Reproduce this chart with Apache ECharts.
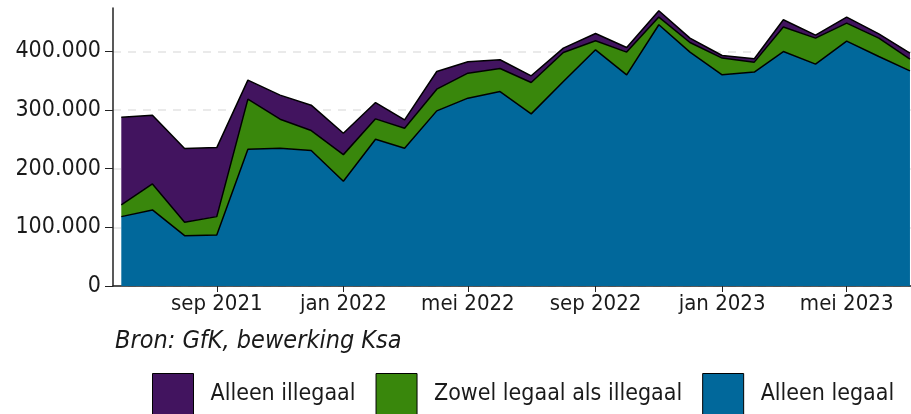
<!DOCTYPE html>
<html>
<head>
<meta charset="utf-8">
<script src="https://cdn.jsdelivr.net/npm/echarts@6/dist/echarts.min.js"></script>
<style>
    html, body {margin: 0; padding: 0; background: #fff;}
    #chart {width: 911px; height: 414px;}
</style>
</head>
<body>
<div id="chart"></div>
<script>
// maanden (jun 2021 t/m jul 2023)
const months = ['2021-06', '2021-07', '2021-08', '2021-09', '2021-10', '2021-11', '2021-12',
    '2022-01', '2022-02', '2022-03', '2022-04', '2022-05', '2022-06', '2022-07', '2022-08',
    '2022-09', '2022-10', '2022-11', '2022-12', '2023-01', '2023-02', '2023-03', '2023-04',
    '2023-05', '2023-06', '2023-07'];
const alleenLegaal = [118300, 129700, 85800, 87000, 233300, 235000, 230900, 178600, 250300,
    235000, 298600, 320300, 331600, 293500, 348700, 402700, 360100, 445400, 398800, 360100,
    364700, 399800, 378300, 417600, 391300, 366900];
const zowelLegaalAlsIllegaal = [19900, 44300, 22900, 31300, 85300, 49400, 34100, 45400, 34700,
    34100, 37000, 42600, 39300, 53500, 49500, 15400, 38700, 13100, 16400, 28500, 17000, 41700,
    44400, 30700, 31400, 20000];
const alleenIllegaal = [149700, 117300, 125600, 117700, 32400, 41000, 43300, 36500, 27800,
    14200, 30100, 19400, 14800, 11400, 7400, 12500, 7900, 10800, 7500, 4400, 5700, 12400,
    5100, 10200, 7300, 10200];
// x-as labels
const tickMonths = ['2021-09', '2022-01', '2022-05', '2022-09', '2023-01', '2023-05'];
const tickLabels = ['sep 2021', 'jan 2022', 'mei 2022', 'sep 2022', 'jan 2023', 'mei 2023'];
const yTicks = [0, 100000, 200000, 300000, 400000];

const font = "'DejaVu Sans Condensed', 'Liberation Sans Narrow', 'DejaVu Sans', sans-serif";
const txt = '#1a1a1a';

function toTime(m, day) {
    const p = m.split('-');
    return Date.UTC(+p[0], +p[1] - 1, day || 1);
}

const tickTimes = tickMonths.map(m => toTime(m));
const xMin = toTime('2021-05', 24);
const xMax = toTime('2023-07', 2);

function makeSeries(name, values, color, z) {
    return {
        name: name,
        type: 'line',
        stack: 'totaal',
        xAxisIndex: 0,
        z: z,
        symbol: 'none',
        color: color,
        itemStyle: {color: color},
        lineStyle: {color: '#000', width: 1.5},
        areaStyle: {color: color, opacity: 1},
        data: values.map((v, i) => [toTime(months[i]), v])
    };
}

const myChart = echarts.init(document.getElementById('chart'));
const option = {
    animation: false,
    textStyle: {fontFamily: font},
    grid: {left: 113, right: 0, top: 8, bottom: 128},
    title: {
        text: 'Bron: GfK, bewerking Ksa',
        left: 110,
        top: 324,
        textStyle: {fontFamily: font, fontSize: 25, fontStyle: 'italic', fontWeight: 'normal', color: txt}
    },
    legend: {
        data: ['Alleen illegaal', 'Zowel legaal als illegaal', 'Alleen legaal'],
        left: 147,
        top: 368,
        icon: 'rect',
        itemWidth: 41,
        itemHeight: 41,
        itemGap: 20,
        itemStyle: {borderColor: '#000', borderWidth: 1},
        textStyle: {fontFamily: font, fontSize: 23, color: txt, padding: [0, 0, 0, 12]}
    },
    xAxis: [{
        // tijd-as voor de data (stapelen werkt hierop)
        type: 'time',
        position: 'bottom',
        min: xMin,
        max: xMax,
        axisLine: {lineStyle: {color: '#222', width: 1.5}},
        axisTick: {show: false},
        axisLabel: {show: false},
        splitLine: {show: false}
    }, {
        // zelfde bereik, alleen voor de labels sep/jan/mei
        type: 'value',
        position: 'bottom',
        min: xMin,
        max: xMax,
        axisLine: {show: false},
        axisTick: {show: true, length: 6, lineStyle: {color: '#222'}, customValues: tickTimes},
        axisLabel: {
            customValues: tickTimes,
            fontFamily: font,
            fontSize: 22,
            color: txt,
            margin: 7,
            formatter: function (v) {
                const i = tickTimes.indexOf(v);
                return i >= 0 ? tickLabels[i] : '';
            }
        },
        splitLine: {show: false}
    }],
    yAxis: {
        type: 'value',
        min: 0,
        max: 474000,
        interval: 100000,
        axisLine: {show: true, lineStyle: {color: '#222', width: 1.5}},
        axisTick: {show: true, length: 8, lineStyle: {color: '#222'}, customValues: yTicks},
        axisLabel: {
            customValues: yTicks,
            fontFamily: font,
            fontSize: 23,
            color: txt,
            margin: 12,
            formatter: function (v) {
                return String(v).replace(/\B(?=(\d{3})+(?!\d))/g, '.');
            }
        },
        splitLine: {show: true, lineStyle: {color: '#e3e3e3', width: 1.5, type: [8, 7]}}
    },
    series: [
        makeSeries('Alleen legaal', alleenLegaal, '#01689b', 4),
        makeSeries('Zowel legaal als illegaal', zowelLegaalAlsIllegaal, '#39870c', 3),
        makeSeries('Alleen illegaal', alleenIllegaal, '#42145f', 2)
    ]
};
myChart.setOption(option);
</script>
</body>
</html>
